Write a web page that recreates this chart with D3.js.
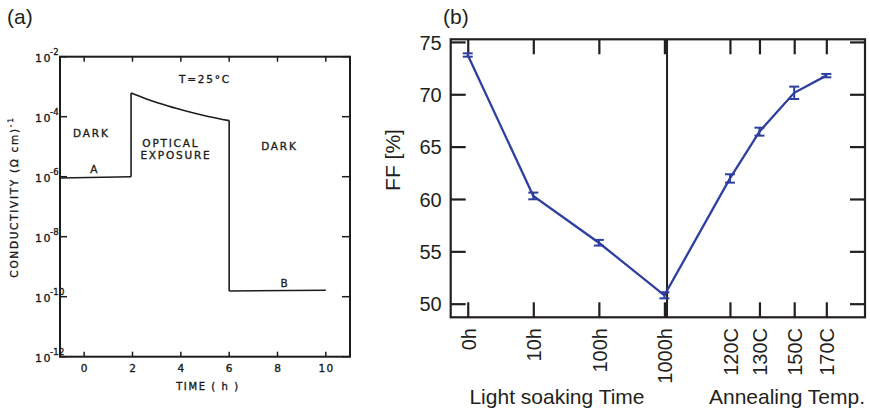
<!DOCTYPE html>
<html>
<head>
<meta charset="utf-8">
<script src="https://cdn.jsdelivr.net/npm/d3@7"></script>
<style>
  html, body { margin: 0; padding: 0; background: #fff; }
  svg { display: block; }
</style>
</head>
<body>
<svg id="chart" width="870" height="413"></svg>
<script>
// ---------- Panel (a) data: conductivity vs time ----------
const preTimeA   = [-1, 1.94];
const preCondA   = [9e-7, 1e-6];
const decayTimeA = [1.94, 2.35, 3.03, 3.76, 4.45, 5.13, 6.0];
const decayCondA = [6.2e-4, 4.6e-4, 2.9e-4, 1.95e-4, 1.38e-4, 1.02e-4, 7.4e-5];
const postTimeA  = [6.0, 10];
const postCondA  = [1.55e-10, 1.65e-10];
const xTicksA = [0, 2, 4, 6, 8, 10];
const yExpA = [-2, -4, -6, -8, -10, -12];
const notesA = [
  { text: "T=25°C",   t: 4.96, c: Math.pow(10, -2.877) },
  { text: "DARK",     t: 0.26, c: Math.pow(10, -4.667) },
  { text: "OPTICAL",  t: 3.55, c: Math.pow(10, -5.0) },
  { text: "EXPOSURE", t: 3.76, c: Math.pow(10, -5.42) },
  { text: "DARK",     t: 8.04, c: Math.pow(10, -5.11) },
  { text: "A",        t: 0.40, c: Math.pow(10, -5.877) },
  { text: "B",        t: 8.27, c: Math.pow(10, -9.677) }
];

// ---------- Panel (b) data: FF vs treatment ----------
const catsB = ["0h", "10h", "100h", "1000h", "120C", "130C", "150C", "170C"];
const posB  = [0, 1, 2, 3, 4, 4.45, 4.98, 5.47];
const ffB   = [73.75, 60.29, 55.82, 50.80, 61.96, 66.43, 70.14, 71.78];
const errB  = [0.16, 0.32, 0.27, 0.29, 0.40, 0.38, 0.59, 0.16];
const yTicksB = [50, 55, 60, 65, 70, 75];
const dividerB = 3.04;

const svg = d3.select("#chart");
svg.append("rect").attr("width", 870).attr("height", 413).attr("fill", "#fff");

// =================== Panel (a) ===================
const fA = "'DejaVu Sans', Verdana, sans-serif";
const inkA = "#1c1c1c";
const xA = d3.scaleLinear().domain([-1, 11]).range([60, 350]);
const yA = d3.scaleLog().domain([1e-12, 1e-2]).range([356.7, 56.7]);
const gA = svg.append("g");

function inkText(sel, size, spacing) {
  return sel.attr("font-family", fA).attr("font-size", size)
    .attr("letter-spacing", spacing).attr("fill", inkA)
    .attr("stroke", inkA).attr("stroke-width", 0.35);
}

// ticks
gA.selectAll("line.tt").data(xTicksA).join("line")
  .attr("x1", d => xA(d)).attr("x2", d => xA(d))
  .attr("y1", yA.range()[1]).attr("y2", yA.range()[1] + 5)
  .attr("stroke", inkA).attr("stroke-width", 1.5);
gA.selectAll("line.bt").data(xTicksA).join("line")
  .attr("x1", d => xA(d)).attr("x2", d => xA(d))
  .attr("y1", yA.range()[0]).attr("y2", yA.range()[0] - 5)
  .attr("stroke", inkA).attr("stroke-width", 1.5);
gA.selectAll("line.lt").data(yExpA).join("line")
  .attr("x1", xA.range()[0]).attr("x2", xA.range()[0] + 7)
  .attr("y1", d => yA(Math.pow(10, d))).attr("y2", d => yA(Math.pow(10, d)))
  .attr("stroke", inkA).attr("stroke-width", 1.5);
gA.selectAll("line.rt").data(yExpA).join("line")
  .attr("x1", xA.range()[1]).attr("x2", xA.range()[1] - 8)
  .attr("y1", d => yA(Math.pow(10, d))).attr("y2", d => yA(Math.pow(10, d)))
  .attr("stroke", inkA).attr("stroke-width", 1.5);

// frame
gA.append("rect")
  .attr("x", xA.range()[0]).attr("y", yA.range()[1])
  .attr("width", xA.range()[1] - xA.range()[0])
  .attr("height", yA.range()[0] - yA.range()[1])
  .attr("fill", "none").attr("stroke", inkA).attr("stroke-width", 2);

// data line
const lineA = d3.line().x(d => xA(d[0])).y(d => yA(d[1]));
const pre = preTimeA.map((t, i) => [t, preCondA[i]]);
const decay = decayTimeA.map((t, i) => [t, decayCondA[i]]);
const post = postTimeA.map((t, i) => [t, postCondA[i]]);
gA.append("path").datum(pre).attr("d", lineA)
  .attr("fill", "none").attr("stroke", inkA).attr("stroke-width", 1.6);
gA.append("path").datum(decay).attr("d", lineA.curve(d3.curveMonotoneX))
  .attr("fill", "none").attr("stroke", inkA).attr("stroke-width", 1.6);
lineA.curve(d3.curveLinear);
// vertical transitions
gA.append("path").datum([pre[pre.length - 1], decay[0]]).attr("d", lineA)
  .attr("fill", "none").attr("stroke", inkA).attr("stroke-width", 1.6);
gA.append("path").datum([decay[decay.length - 1], post[0]]).attr("d", lineA)
  .attr("fill", "none").attr("stroke", inkA).attr("stroke-width", 1.6);
gA.append("path").datum(post).attr("d", lineA)
  .attr("fill", "none").attr("stroke", inkA).attr("stroke-width", 1.6);

// y tick labels 10^e
yExpA.forEach(e => {
  const yy = yA(Math.pow(10, e));
  inkText(gA.append("text").attr("x", 35).attr("y", yy + 5), 11, 1.4).text("10");
  inkText(gA.append("text").attr("x", 50).attr("y", yy - 2), 8.5, 0.3).text("-" + Math.abs(e));
});

// x tick labels
inkText(gA.selectAll("text.xl").data(xTicksA).join("text")
  .attr("x", d => xA(d) + 0.7).attr("y", 372)
  .attr("text-anchor", "middle"), 10.5, 1.4).text(d => d);

// axis titles
inkText(gA.append("text")
  .attr("x", 208).attr("y", 390).attr("text-anchor", "middle"), 10, 1.6)
  .text("TIME ( h )");
const yl = inkText(gA.append("text")
  .attr("transform", "translate(18,197) rotate(-90)")
  .attr("text-anchor", "middle"), 10.5, 1.7);
yl.append("tspan").text("CONDUCTIVITY  (\u03A9 cm)");
yl.append("tspan").attr("dy", -5).attr("font-size", 7.5).text("-1");

// annotations
inkText(gA.selectAll("text.note").data(notesA).join("text")
  .attr("x", d => xA(d.t) + 0.9).attr("y", d => yA(d.c))
  .attr("text-anchor", "middle"), 10.5, 1.8).text(d => d.text);

// panel label
svg.append("text").attr("x", 7).attr("y", 24)
  .attr("font-family", "'Liberation Sans', Arial, sans-serif").attr("font-size", 21)
  .attr("fill", "#231f20").text("(a)");

// =================== Panel (b) ===================
const fB = "'Liberation Sans', Arial, Helvetica, sans-serif";
const inkB = "#231f20";
const blue = "#2e3f9f";
const xB = d3.scaleLinear().domain([-0.26, 6.06]).range([450.7, 865]);
const yB = d3.scaleLinear().domain([48.7, 75.25]).range([317.3, 39.3]);
const gB = svg.append("g");
const tick = 15;

// left axis with labels
gB.append("g").attr("transform", `translate(${xB.range()[0]},0)`)
  .call(d3.axisLeft(yB).tickValues(yTicksB).tickSizeInner(-tick).tickSizeOuter(0).tickPadding(9))
  .call(g => g.select(".domain").remove())
  .call(g => g.selectAll("line").attr("stroke", inkB).attr("stroke-width", 2.2))
  .call(g => g.selectAll("text").attr("font-family", fB).attr("font-size", 20).attr("fill", inkB).attr("dy", "0.36em"));
// right axis
gB.append("g").attr("transform", `translate(${xB.range()[1]},0)`)
  .call(d3.axisRight(yB).tickValues(yTicksB).tickSizeInner(-tick).tickSizeOuter(0).tickFormat(""))
  .call(g => g.select(".domain").remove())
  .call(g => g.selectAll("line").attr("stroke", inkB).attr("stroke-width", 2.2));
// bottom axis
gB.append("g").attr("transform", `translate(0,${yB.range()[0]})`)
  .call(d3.axisBottom(xB).tickValues(posB).tickSizeInner(-tick).tickSizeOuter(0).tickFormat(""))
  .call(g => g.select(".domain").remove())
  .call(g => g.selectAll("line").attr("stroke", inkB).attr("stroke-width", 2.2));
// top axis
gB.append("g").attr("transform", `translate(0,${yB.range()[1]})`)
  .call(d3.axisTop(xB).tickValues(posB).tickSizeInner(-tick).tickSizeOuter(0).tickFormat(""))
  .call(g => g.select(".domain").remove())
  .call(g => g.selectAll("line").attr("stroke", inkB).attr("stroke-width", 2.2));

// frame
gB.append("rect")
  .attr("x", xB.range()[0]).attr("y", yB.range()[1])
  .attr("width", xB.range()[1] - xB.range()[0])
  .attr("height", yB.range()[0] - yB.range()[1])
  .attr("fill", "none").attr("stroke", inkB).attr("stroke-width", 2.2);

// divider
gB.append("line")
  .attr("x1", xB(dividerB)).attr("x2", xB(dividerB))
  .attr("y1", yB.range()[1]).attr("y2", yB.range()[0])
  .attr("stroke", inkB).attr("stroke-width", 2);

// rotated category labels
gB.selectAll("text.cat").data(catsB).join("text")
  .attr("transform", (d, i) => `translate(${xB(posB[i]) + 8},328) rotate(-90)`)
  .attr("text-anchor", "end")
  .attr("font-family", fB).attr("font-size", 20).attr("fill", inkB)
  .text(d => d);

// data line
const ptsB = posB.map((p, i) => [p, ffB[i]]);
gB.append("path").datum(ptsB)
  .attr("d", d3.line().x(d => xB(d[0])).y(d => yB(d[1])))
  .attr("fill", "none").attr("stroke", blue).attr("stroke-width", 2.3);

// error bars
const eb = gB.selectAll("g.eb").data(posB.map((p, i) => ({ p, v: ffB[i], e: errB[i] }))).join("g");
eb.append("line")
  .attr("x1", d => xB(d.p)).attr("x2", d => xB(d.p))
  .attr("y1", d => yB(d.v - d.e)).attr("y2", d => yB(d.v + d.e))
  .attr("stroke", blue).attr("stroke-width", 2);
eb.append("line")
  .attr("x1", d => xB(d.p) - 5).attr("x2", d => xB(d.p) + 5)
  .attr("y1", d => yB(d.v - d.e)).attr("y2", d => yB(d.v - d.e))
  .attr("stroke", blue).attr("stroke-width", 2);
eb.append("line")
  .attr("x1", d => xB(d.p) - 5).attr("x2", d => xB(d.p) + 5)
  .attr("y1", d => yB(d.v + d.e)).attr("y2", d => yB(d.v + d.e))
  .attr("stroke", blue).attr("stroke-width", 2);

// axis titles
gB.append("text").attr("transform", "translate(400,160) rotate(-90)")
  .attr("text-anchor", "middle")
  .attr("font-family", fB).attr("font-size", 21).attr("fill", inkB)
  .text("FF [%]");
gB.append("text").attr("x", 557).attr("y", 404).attr("text-anchor", "middle")
  .attr("font-family", fB).attr("font-size", 21).attr("fill", inkB)
  .text("Light soaking Time");
gB.append("text").attr("x", 787).attr("y", 404).attr("text-anchor", "middle")
  .attr("font-family", fB).attr("font-size", 21).attr("fill", inkB)
  .text("Annealing Temp.");

svg.append("text").attr("x", 443).attr("y", 24)
  .attr("font-family", fB).attr("font-size", 21).attr("fill", inkB).text("(b)");
</script>
</body>
</html>
